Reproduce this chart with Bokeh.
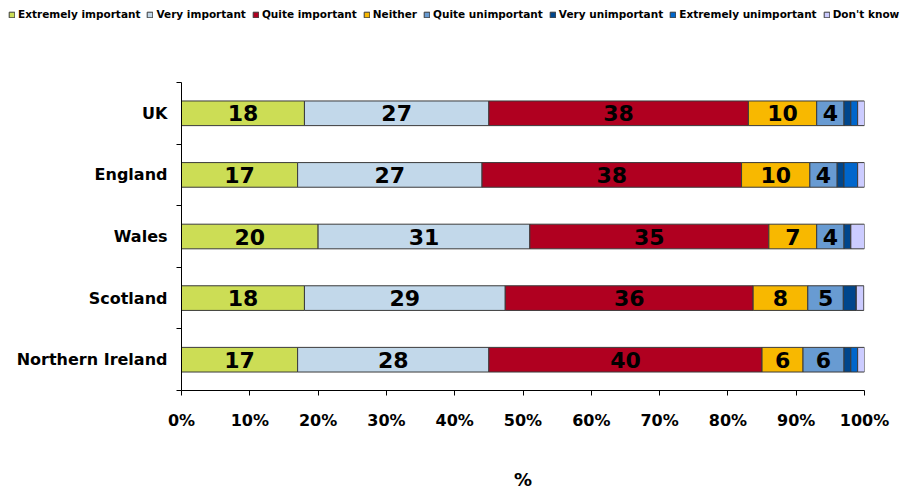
from bokeh.plotting import figure
from bokeh.models import (ColumnDataSource, Legend, LegendItem, FixedTicker, Range1d)
from bokeh.layouts import column
from bokeh.embed import file_html
from bokeh.resources import INLINE
from bokeh.core.properties import value

regions = ["UK", "England", "Wales", "Scotland", "Northern Ireland"]
series_names = ["Extremely important", "Very important", "Quite important", "Neither",
                "Quite unimportant", "Very unimportant", "Extremely unimportant", "Don't know"]
ext_imp = [18, 17, 20, 18, 17]
very_imp = [27, 27, 31, 29.4, 28]
quite_imp = [38, 38, 35, 36.3, 40]
neither = [10, 10, 7, 8, 6]
quite_unimp = [4, 4, 4, 5.2, 6]
very_unimp = [1, 1, 1, 1.9, 1]
ext_unimp = [1, 2, 0, 0, 1]
dont_know = [1, 1, 2, 1.1, 1]
colors = ["#CCDD55", "#C2D8EA", "#B00020", "#F8B800", "#689BD2", "#00468C", "#0066CC", "#CCCCFF"]
x_ticks = [0, 10, 20, 30, 40, 50, 60, 70, 80, 90, 100]

series = [ext_imp, very_imp, quite_imp, neither, quite_unimp, very_unimp, ext_unimp, dont_know]
n = len(regions)
ypos = [n - i - 0.5 for i in range(n)]

FONT = "DejaVu Sans"
W = 900

# ---------- legend strip (swatches use the same colours as the bars) ----------
leg = figure(width=W, height=28, output_backend="svg", toolbar_location=None,
             x_range=Range1d(0, 1), y_range=Range1d(0, 1),
             min_border_left=0, min_border_right=0, min_border_top=0, min_border_bottom=0)
leg.frame_align = False
leg.axis.visible = False
leg.grid.visible = False
leg.outline_line_color = None
leg_items = []
for nm, col in zip(series_names, colors):
    r = leg.hbar(y=[-5], left=[-5], right=[-4], height=0.4, fill_color=col,
                 line_color="#3a3a3a", line_width=1)
    leg_items.append(LegendItem(label=nm, renderers=[r]))
legend = Legend(items=leg_items, orientation="horizontal", location="top_left",
                glyph_width=7, glyph_height=7, label_standoff=3, spacing=6,
                padding=0, margin=8, border_line_color=None, background_fill_alpha=0,
                label_text_font=FONT, label_text_font_size="10.5px", label_text_font_style="bold",
                label_text_color="black", label_height=12)
leg.add_layout(legend, "center")

# ---------- main chart ----------
p = figure(width=W, height=464, output_backend="svg", toolbar_location=None,
           x_range=Range1d(0, 100), y_range=Range1d(0, n),
           min_border_left=181, min_border_right=W - 864, min_border_top=54, min_border_bottom=99)
p.frame_align = False
p.outline_line_color = None
p.grid.visible = False

left = [0.0] * n
lab_x, lab_y, lab_t = [], [], []
for vals, col in zip(series, colors):
    right = [l + v for l, v in zip(left, vals)]
    src = ColumnDataSource(dict(y=ypos, left=left, right=right))
    p.hbar(y="y", left="left", right="right", height=0.4, source=src,
           fill_color=col, line_color="#3a3a3a", line_width=1)
    for l, v, yy in zip(left, vals, ypos):
        if v >= 3:
            lab_x.append(l + v / 2)
            lab_y.append(yy)
            lab_t.append(str(int(round(v))))
    left = right

lsrc = ColumnDataSource(dict(x=lab_x, y=lab_y, t=lab_t))
p.text(x="x", y="y", text="t", source=lsrc, text_align="center", text_baseline="middle",
       text_font=value(FONT), text_font_size="22px", text_font_style="bold", text_color="black")

p.xaxis.ticker = FixedTicker(ticks=x_ticks)
p.xaxis.major_label_overrides = {t: f"{t}%" for t in x_ticks}
p.xaxis.axis_label = "%"
p.xaxis.axis_label_text_font = FONT
p.xaxis.axis_label_text_font_size = "18px"
p.xaxis.axis_label_text_font_style = "bold"
p.xaxis.axis_label_text_color = "black"
p.xaxis.axis_label_standoff = 36
p.xaxis.major_label_text_font = FONT
p.xaxis.major_label_text_font_size = "16px"
p.xaxis.major_label_text_font_style = "bold"
p.xaxis.major_label_text_color = "black"
p.xaxis.major_label_standoff = 15
p.xaxis.major_tick_out = 5
p.xaxis.major_tick_in = 0
p.xaxis.minor_tick_out = 0
p.xaxis.minor_tick_in = 0
p.xaxis.axis_line_color = "black"
p.xaxis.major_tick_line_color = "black"

p.yaxis.ticker = FixedTicker(ticks=ypos, minor_ticks=list(range(n + 1)))
p.yaxis.major_label_overrides = {yy: r for yy, r in zip(ypos, regions)}
p.yaxis.major_tick_out = 0
p.yaxis.major_tick_in = 0
p.yaxis.minor_tick_out = 5
p.yaxis.minor_tick_in = 0
p.yaxis.minor_tick_line_color = "black"
p.yaxis.axis_line_color = "black"
p.yaxis.major_label_text_font = FONT
p.yaxis.major_label_text_font_size = "16px"
p.yaxis.major_label_text_font_style = "bold"
p.yaxis.major_label_text_color = "black"
p.yaxis.major_label_standoff = 9

layout = column(leg, p, spacing=0)
open("out.html", "w").write(file_html(layout, INLINE))
